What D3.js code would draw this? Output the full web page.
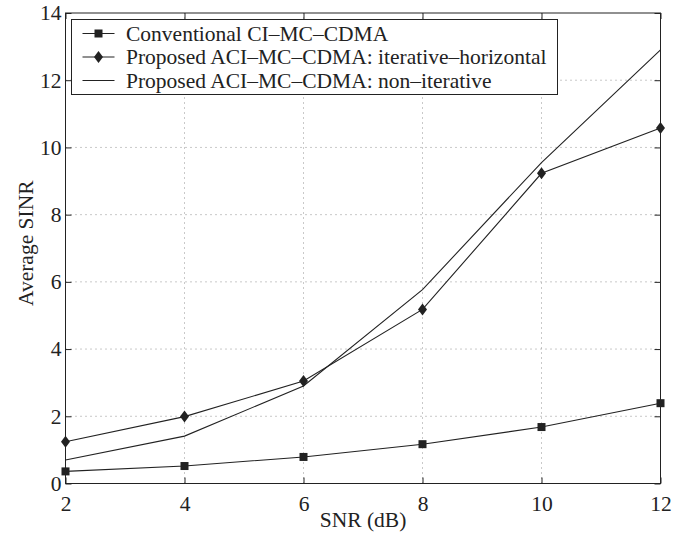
<!DOCTYPE html>
<html><head><meta charset="utf-8">
<script src="https://cdn.jsdelivr.net/npm/d3@7"></script>
<style>
body{margin:0;background:#fff;}
text{font-family:"Liberation Serif","Times New Roman",serif;fill:#222;}
</style></head>
<body>
<svg id="chart" width="686" height="535"></svg>
<script>
const snr = [2, 4, 6, 8, 10, 12];
const conventional = [0.36, 0.52, 0.79, 1.17, 1.68, 2.39];
const iterative = [1.24, 1.99, 3.05, 5.18, 9.23, 10.58];
const nonIterative = [0.70, 1.41, 2.90, 5.77, 9.55, 12.90];
const xTicks = [2, 4, 6, 8, 10, 12];
const yTicks = [0, 2, 4, 6, 8, 10, 12, 14];
const legendLabels = ["Conventional CI\u2013MC\u2013CDMA",
  "Proposed ACI\u2013MC\u2013CDMA: iterative\u2013horizontal",
  "Proposed ACI\u2013MC\u2013CDMA: non\u2013iterative"];

const svg = d3.select("#chart");
const L = 65.5, R = 660.5, T = 13, B = 483.5;
const x = d3.scaleLinear().domain([2, 12]).range([L, R]);
const y = d3.scaleLinear().domain([0, 14]).range([B, T]);
const ink = "#222";

// grid
const grid = svg.append("g").attr("stroke", "#777").attr("stroke-width", 0.8).attr("stroke-dasharray", "1,4");
xTicks.slice(1, -1).forEach(t => grid.append("line").attr("x1", x(t)).attr("x2", x(t)).attr("y1", B).attr("y2", T));
yTicks.slice(1, -1).forEach(t => grid.append("line").attr("y1", y(t)).attr("y2", y(t)).attr("x1", L).attr("x2", R));

// axes with inward ticks
const tk = 6;
const fs = 21.5;
svg.append("g").attr("transform", `translate(0,${B})`)
  .call(d3.axisBottom(x).tickValues(xTicks).tickSizeInner(-tk).tickSizeOuter(0).tickPadding(12))
  .call(g => { g.select(".domain").remove(); g.selectAll("line").attr("stroke", ink);
    g.selectAll("text").attr("font-size", fs).style("font-family", "Liberation Serif").attr("fill", ink); });
svg.append("g").attr("transform", `translate(0,${T})`)
  .call(d3.axisTop(x).tickValues(xTicks).tickSizeInner(-tk).tickSizeOuter(0).tickFormat(""))
  .call(g => { g.select(".domain").remove(); g.selectAll("line").attr("stroke", ink); });
svg.append("g").attr("transform", `translate(${L},0)`)
  .call(d3.axisLeft(y).tickValues(yTicks).tickSizeInner(-tk).tickSizeOuter(0).tickPadding(4))
  .call(g => { g.select(".domain").remove(); g.selectAll("line").attr("stroke", ink);
    g.selectAll("text").attr("font-size", fs).style("font-family", "Liberation Serif").attr("fill", ink); });
svg.append("g").attr("transform", `translate(${R},0)`)
  .call(d3.axisRight(y).tickValues(yTicks).tickSizeInner(-tk).tickSizeOuter(0).tickFormat(""))
  .call(g => { g.select(".domain").remove(); g.selectAll("line").attr("stroke", ink); });
svg.append("rect").attr("x", L).attr("y", T).attr("width", R - L).attr("height", B - T)
  .attr("fill", "none").attr("stroke", ink).attr("stroke-width", 1);

// lines
const line = d3.line().x(d => x(d[0])).y(d => y(d[1]));
const series = [
  {vals: conventional, marker: "square"},
  {vals: iterative, marker: "diamond"},
  {vals: nonIterative, marker: null}
];
const sq = 8;
const diamondPath = (cx, cy) => `M${cx},${cy-6}L${cx+4.5},${cy}L${cx},${cy+6}L${cx-4.5},${cy}Z`;
function drawMarker(g, type, cx, cy) {
  if (type === "square") g.append("rect").attr("x", cx - sq/2).attr("y", cy - sq/2).attr("width", sq).attr("height", sq).attr("fill", ink);
  else if (type === "diamond") g.append("path").attr("d", diamondPath(cx, cy)).attr("fill", ink);
}
series.forEach(s => {
  const pts = snr.map((v, i) => [v, s.vals[i]]);
  svg.append("path").attr("d", line(pts)).attr("fill", "none").attr("stroke", ink).attr("stroke-width", 1.1);
  const mg = svg.append("g");
  pts.forEach(p => drawMarker(mg, s.marker, x(p[0]), y(p[1])));
});

// legend
const lg = svg.append("g");
lg.append("rect").attr("x", 71.5).attr("y", 19.5).attr("width", 486).attr("height", 75)
  .attr("fill", "#fff").attr("stroke", ink).attr("stroke-width", 1);
const rowsY = [33.5, 57, 80.5];
legendLabels.forEach((lab, i) => {
  lg.append("line").attr("x1", 82.5).attr("x2", 114.5).attr("y1", rowsY[i]).attr("y2", rowsY[i]).attr("stroke", ink).attr("stroke-width", 1.1);
  drawMarker(lg, series[i].marker, 98.5, rowsY[i]);
  lg.append("text").attr("x", 126).attr("y", rowsY[i]).attr("dy", "0.33em").attr("font-size", fs).text(lab);
});

// axis labels
svg.append("text").attr("x", (L + R) / 2).attr("y", 527).attr("text-anchor", "middle").attr("font-size", fs).text("SNR (dB)");
svg.append("text").attr("transform", `translate(33,${(T + B) / 2 - 5}) rotate(-90)`).attr("text-anchor", "middle").attr("font-size", fs).text("Average SINR");
</script>
</body></html>
